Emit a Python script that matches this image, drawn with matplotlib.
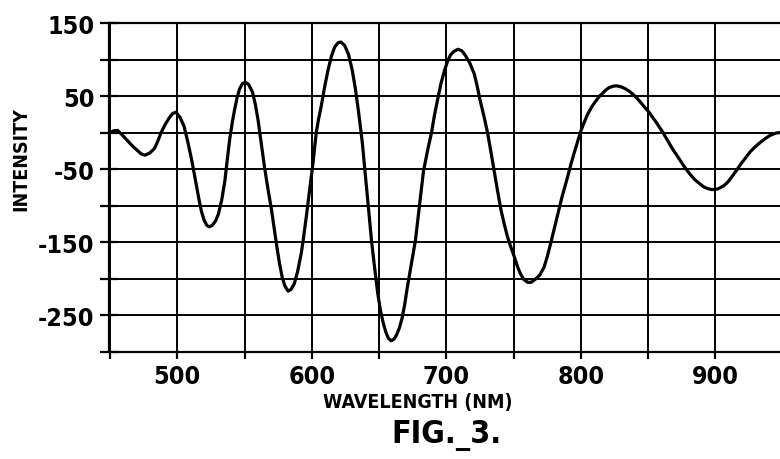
import matplotlib
matplotlib.use("Agg")
import matplotlib.pyplot as plt

plt.rcParams['font.family'] = ['DejaVu Sans']
plt.rcParams['font.stretch'] = 'condensed'
plt.rcParams['font.weight'] = 'bold'
plt.rcParams['axes.unicode_minus'] = False

wavelength = [450, 453, 455.6, 459, 463, 466.5, 470, 473, 476, 479.5, 483, 485.5, 488, 491,
              494, 496.5, 499, 502, 505, 508, 511, 513.5, 516, 518, 520, 522, 523.7, 526,
              528.5, 530.5, 533, 535.4, 537, 539, 541, 542.7, 544.5, 546.4, 548.5, 550.5,
              553, 556, 558, 560, 562.5, 565, 567.5, 570, 572, 574, 576, 578, 580, 582.4,
              584.5, 587, 589.5, 592.2, 594, 596, 598.5, 601, 603.3, 605, 607, 609.5, 612,
              614.5, 617, 619.5, 621.7, 624.5, 627.3, 630, 632.4, 635, 637.5, 640, 642.5,
              644.5, 646.5, 649, 651, 653, 655, 657, 659, 661, 663, 665, 667, 669, 671,
              674, 677, 680, 683, 686, 689, 691, 693.5, 696, 698.8, 701, 703, 705.5,
              708.6, 711.5, 714, 717.5, 720.8, 723, 725, 728, 730.6, 733, 735.5, 738,
              740.5, 743, 745.5, 748, 750.5, 753, 755, 757.5, 760.4, 763, 766, 769.5,
              772.7, 775, 777.5, 780, 783, 786, 789.8, 792.5, 795, 797.5, 799.6, 802, 805,
              808, 811, 814, 816.8, 819, 821, 824, 826.7, 830, 833, 836, 839, 842, 845,
              848, 851, 856, 861, 864.5, 868, 872, 875.9, 879, 882, 885, 888.3, 891, 894,
              897, 899.5, 902, 904, 906, 908, 910, 912, 914, 916, 918.5, 921, 923.5, 926,
              929, 932, 935, 938, 940.5, 943, 945.5, 948]
intensity = [0, 2.5, 3, -3, -11, -18, -24, -29, -31, -28, -22, -12, 0, 11,
             20, 26, 28, 21, 9, -14, -40, -65, -90, -108, -120, -127, -129, -127,
             -121, -112, -93, -66, -40, -9, 15, 32, 48, 60, 67, 69,
             66, 55, 39, 18, -15, -49, -78, -105, -131, -156, -179, -198, -210, -217,
             -215, -207, -190, -165, -142, -114, -77, -40, 0, 18, 36, 62, 85,
             104, 117, 123, 124, 119, 107, 86, 60, 25, -13, -62, -110,
             -150, -182, -220, -243, -260, -273, -282, -285, -283, -277, -268, -255, -236, -212,
             -180, -148, -100, -53, -25, 0, 22, 45, 67, 86, 98, 106, 111,
             114, 112, 106, 95, 80, 63, 45, 22, 0, -25, -52, -79,
             -105, -125, -143, -157, -170, -184, -193, -201, -205, -205, -201, -195,
             -184, -170, -152, -133, -110, -88, -63, -44, -28, -13, 0, 12, 25,
             35, 43, 50, 55, 59, 61.5, 63.5, 64, 62.5, 60, 56.5, 52, 46.5, 40,
             33.5, 27, 14, 0, -11, -22, -33, -44, -52, -59, -65, -70, -74, -76.5,
             -78, -78, -77, -75, -73, -70, -66, -61, -56, -51, -44, -38, -32, -26,
             -20.5, -15.5, -11, -7, -4, -2, -0.5, 0]

x_ticks = [450, 500, 550, 600, 650, 700, 750, 800, 850, 900]
x_labels = ['', '500', '', '600', '', '700', '', '800', '', '900']
y_ticks = [150, 100, 50, 0, -50, -100, -150, -200, -250, -300]
y_labels = ['150', '', '50', '', '-50', '', '-150', '', '-250', '']

fig = plt.figure(figsize=(7.8, 4.6), dpi=100)
ax = fig.add_axes([109.3 / 780, 107.3 / 460, (780 - 109.3) / 780, (352.7 - 24) / 460])

ax.plot(wavelength, intensity, color='black', lw=2.3, solid_joinstyle='round',
        solid_capstyle='round', zorder=3)

ax.set_xlim(449.5, 948)
ax.set_ylim(-300, 150)
ax.set_xticks(x_ticks)
ax.set_xticklabels(x_labels)
ax.set_yticks(y_ticks)
ax.set_yticklabels(y_labels)

ax.grid(True, color='black', lw=1.4)
for s in ['left', 'bottom', 'top']:
    ax.spines[s].set_linewidth(1.6)
    ax.spines[s].set_color('black')
ax.spines['right'].set_visible(False)

ax.tick_params(axis='y', direction='inout', length=13, width=1.6, pad=4, labelsize=18)
ax.tick_params(axis='x', direction='out', length=5, width=1.6, pad=4, labelsize=18)

fig.text(418 / 780, (460 - 403) / 460, 'WAVELENGTH (NM)', ha='center', va='center',
         fontsize=14, fontweight='bold')
fig.text(446 / 780, (460 - 436) / 460, 'FIG._3.', ha='center', va='center',
         fontsize=23, fontweight='bold')
fig.text(21 / 780, (460 - 159) / 460, 'INTENSITY', ha='center', va='center',
         rotation=90, fontsize=14, fontweight='bold')

fig.savefig('out.png', dpi=100)
